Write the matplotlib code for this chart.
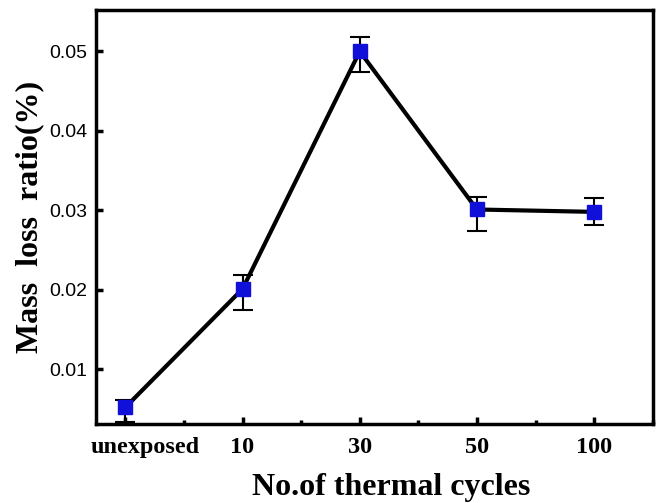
import numpy as np
import matplotlib.pyplot as plt
import matplotlib.transforms as mtransforms
from matplotlib.ticker import MultipleLocator

labels = ['unexposed', '10', '30', '50', '100']
mass_loss = [0.0052, 0.0201, 0.0500, 0.0301, 0.0298]
err_low = [0.0018, 0.0026, 0.0026, 0.0027, 0.0016]
err_high = [0.0009, 0.0017, 0.0018, 0.0016, 0.0017]

x = np.arange(len(labels))

fig = plt.figure(figsize=(6.6, 5.03), dpi=100)
ax = fig.add_axes([0.1455, 0.157, 0.8435, 0.823])

ax.plot(x, mass_loss, color='black', lw=3, zorder=2)
ax.errorbar(x, mass_loss, yerr=[err_low, err_high], fmt='none', ecolor='black',
            elinewidth=1.5, capsize=7.5, capthick=1.5, zorder=3)
ax.plot(x, mass_loss, 's', color='#1010d8', ms=9.5, mec='#1010d8', zorder=4)

ax.set_xlim(-0.25, 4.5)
ax.set_ylim(0.0031, 0.0552)
ax.set_xticks(x)
ax.set_xticklabels(labels, family='Liberation Serif', fontweight='bold', fontsize=17.5)
ax.xaxis.set_minor_locator(MultipleLocator(0.5))
ax.set_yticks([0.01, 0.02, 0.03, 0.04, 0.05])
ax.set_yticklabels(['0.01', '0.02', '0.03', '0.04', '0.05'], family='Liberation Sans', fontsize=14)

ax.tick_params(axis='both', which='major', direction='in', length=5, width=2.5, pad=6)
ax.tick_params(axis='x', which='major', pad=9)
ax.tick_params(axis='x', which='minor', direction='in', length=3, width=2.5)
for s in ax.spines.values():
    s.set_linewidth(2.5)

# the first label sits a bit to the right of its tick in the original
first = ax.get_xticklabels()[0]
first.set_transform(first.get_transform() + mtransforms.ScaledTranslation(0.2, 0, fig.dpi_scale_trans))

ax.set_xlabel('No.of thermal cycles', family='Liberation Serif', fontweight='bold', fontsize=23)
ax.xaxis.set_label_coords(0.531, -0.118)
ax.set_ylabel('Mass  loss  ratio(%)', family='Liberation Serif', fontweight='bold', fontsize=23, labelpad=4)

fig.savefig('out.png', dpi=100)
